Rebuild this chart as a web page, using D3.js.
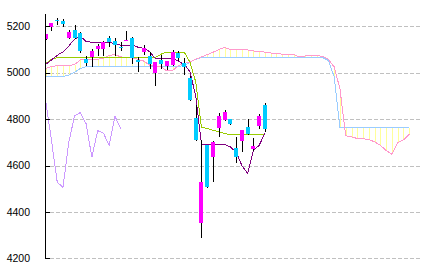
<!DOCTYPE html>
<html>
<head>
<meta charset="utf-8">
<script src="https://cdn.jsdelivr.net/npm/d3@7"></script>
<style>
  body { margin: 0; background: #fff; }
  text { font-family: "Liberation Sans", Arial, sans-serif; font-size: 10.5px; fill: #000; }
</style>
</head>
<body>
<div id="chart"></div>
<script>
// daily candles (index 0 = first visible day)
const opens  = [5144,5197,5227,5221,5148,5183,5170,5058,5066,5101,5101,5148,5135,5112,5139,5148,5053,5088,5071,4997,5053,5028,5032,5084,5041,4976,4803,4351,4687,4637,4760,4795,4799,4674,4704,4765,4670,4769,4859];
const highs  = [5168,5214,5234,5230,5183,5204,5174,5071,5101,5122,5138,5160,5148,5131,5178,5153,5066,5118,5088,5045,5075,5049,5097,5092,5062,4985,4860,4709,4690,4704,4827,4838,4799,4722,4752,4799,4717,4821,4868];
const lows   = [5144,5186,5209,5200,5148,5148,5090,5032,5028,5075,5075,5114,5075,5097,5139,5040,5006,5080,5019,4946,5019,5015,5032,5053,4993,4881,4708,4290,4506,4532,4726,4795,4778,4614,4661,4735,4665,4760,4750];
const closes = [5168,5214,5224,5209,5174,5148,5094,5041,5092,5114,5131,5131,5118,5108,5141,5064,5045,5105,5036,5045,5036,5049,5088,5062,5023,4881,4708,4528,4506,4700,4814,4829,4778,4635,4752,4735,4683,4814,4756];

// conversion line / base line
const tenkan = [5036,5055,5075,5090,5115,5145,5157,5135,5131,5131,5131,5131,5125,5119,5119,5119,5110,5105,5091,5061,5061,5061,5061,5049,5036,5005,4900,4691,4691,4691,4691,4691,4680,4658,4600,4565,4665,4687,4739];
const kijun  = [5039,5058,5065,5065,5065,5065,5065,5065,5065,5065,5065,5065,5065,5065,5065,5065,5065,5065,5065,5065,5080,5089,5089,5089,5089,5046,4960,4764,4760,4752,4745,4738,4733,4733,4733,4733,4733,4733,4733];

// leading spans (run 25 days past the last candle)
const spanA = [5018,5026,5031,5031,5031,5035,5055,5058,5058,5058,5063,5074,5078,5068,5066,5063,5058,5050,5033,5030,5025,5008,5010,5030,5040,
               5045,5058,5068,5078,5088,5100,5108,5100,5100,5100,5098,5094,5090,5089,5085,5082,5080,5078,5078,5068,5072,5075,5075,5070,5058,5025,4930,4728,4724,4716,4715,4712,4702,4687,4665,4648,4698,4710,4735];
const spanB = [4983,4983,4983,4984,4990,5002,5018,5026,5028,5028,5028,5028,5028,5028,5028,5028,5028,5028,5028,5028,5028,5028,5028,5028,5030,
               5045,5058,5065,5065,5065,5065,5065,5065,5065,5065,5065,5065,5065,5065,5065,5065,5065,5065,5065,5065,5065,5065,5065,5065,5053,4982,4763,4763,4763,4763,4763,4763,4763,4763,4763,4763,4763,4763,4763];

// lagging span (starts at the first visible day)
const lagging = [4878,4708,4528,4506,4700,4814,4828,4780,4636,4750,4740,4686,4813,4758];

const yTicks = [4200, 4400, 4600, 4800, 5000, 5200];

const width = 426, height = 272;
const svg = d3.select("#chart").append("svg")
  .attr("width", width).attr("height", height);

const x = d3.scaleLinear().domain([0, 63]).range([45.7, 409.2]);
const y = d3.scaleLinear().domain([4200, 5200]).range([258.3, 26.3]);
const px = v => Math.round(v) + 0.5;

svg.append("clipPath").attr("id", "plot")
  .append("rect").attr("x", 46).attr("y", 0).attr("width", 380).attr("height", height);

// grid
svg.append("g").selectAll("line").data(yTicks).join("line")
  .attr("x1", 50).attr("x2", 420)
  .attr("y1", d => px(y(d))).attr("y2", d => px(y(d)))
  .attr("stroke", "#c0c0c0").attr("stroke-dasharray", "4,2")
  .attr("shape-rendering", "crispEdges");

const plot = svg.append("g").attr("clip-path", "url(#plot)");

// cloud hatching
plot.append("g").selectAll("line").data(d3.range(spanA.length)).join("line")
  .attr("x1", i => px(x(i))).attr("x2", i => px(x(i)))
  .attr("y1", i => y(spanA[i])).attr("y2", i => y(spanB[i]))
  .attr("stroke", "#ffff99").attr("shape-rendering", "crispEdges");

const line = d3.line().x((d, i) => x(i)).y(d => y(d));
function drawLine(data, color) {
  plot.append("path").datum(data)
    .attr("d", line)
    .attr("fill", "none").attr("stroke", color).attr("stroke-width", 1)
    .attr("shape-rendering", "crispEdges");
}
drawLine(spanB, "#99ccff");
drawLine(spanA, "#ff99cc");
drawLine(lagging, "#cc99ff");
drawLine(kijun, "#99cc00");
drawLine(tenkan, "#800080");

// candles
const candles = plot.append("g").selectAll("g").data(d3.range(closes.length)).join("g");
candles.append("line")
  .attr("x1", i => px(x(i))).attr("x2", i => px(x(i)))
  .attr("y1", i => Math.round(y(highs[i]))).attr("y2", i => Math.round(y(lows[i])) + 1)
  .attr("stroke", "#000").attr("shape-rendering", "crispEdges");
candles.append("rect")
  .attr("x", i => Math.round(x(i)) - 2)
  .attr("width", 4)
  .attr("y", i => Math.round(y(Math.max(opens[i], closes[i]))))
  .attr("height", i => Math.max(1, Math.round(y(Math.min(opens[i], closes[i]))) - Math.round(y(Math.max(opens[i], closes[i])))))
  .attr("fill", i => closes[i] >= opens[i] ? "#ff00ff" : "#00ccff")
  .attr("shape-rendering", "crispEdges");

// axis
svg.append("line")
  .attr("x1", 45.5).attr("x2", 45.5).attr("y1", 14).attr("y2", px(y(4200)) + 0.5)
  .attr("stroke", "#000").attr("shape-rendering", "crispEdges");
svg.append("g").selectAll("line").data(yTicks).join("line")
  .attr("x1", 45).attr("x2", 50)
  .attr("y1", d => px(y(d))).attr("y2", d => px(y(d)))
  .attr("stroke", "#000").attr("shape-rendering", "crispEdges");
svg.append("g").selectAll("text").data(yTicks).join("text")
  .attr("x", 30).attr("y", d => y(d))
  .attr("dy", "0.36em")
  .attr("text-anchor", "end")
  .text(d => d);
</script>
</body>
</html>
